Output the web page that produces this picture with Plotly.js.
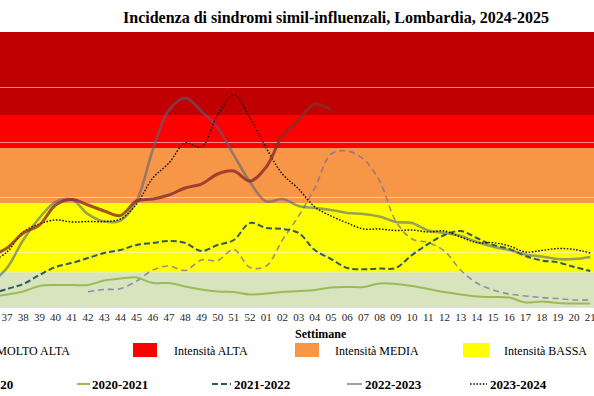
<!DOCTYPE html>
<html><head><meta charset="utf-8">
<script src="https://cdn.plot.ly/plotly-3.0.1.min.js"></script>
<style>html,body{margin:0;padding:0;background:#fff;overflow:hidden}#chart{width:594px;height:396px}</style>
</head><body><div id="chart"></div><script>
// Settimane (weeks)
const weeks = ['36','37','38','39','40','41','42','43','44','45','46','47','48','49','50','51','52',
  '01','02','03','04','05','06','07','08','09','10','11','12','13','14','15','16','17','18','19','20','21'];

// Incidence per 1000 assisted, by season
const s2019_2020 = [null,null,null,null,null,null,1.39,1.59,1.66,2.36,3.36,3.73,3.32,4.27,4.23,5.23,3.59,
  3.73,6.09,8.27,10.82,13.91,14.18,13.45,11.45,7.8,6.18,5.86,5.09,3.36,2.18,1.55,1.18,1.0,0.86,0.77,0.64,0.64];
const s2020_2021 = [0.91,1.14,1.41,1.91,2.0,2.0,2.0,2.41,2.59,2.68,2.18,2.18,1.86,1.59,1.41,1.36,1.14,
  1.23,1.36,1.45,1.55,1.77,1.82,1.82,2.14,2.09,1.91,1.64,1.36,1.14,0.95,0.91,0.86,0.41,0.5,0.36,0.32,0.32];
const s2021_2022 = [1.18,1.64,2.09,2.91,3.64,4.0,4.45,4.91,5.18,5.64,5.82,6.0,5.82,5.09,5.64,6.09,7.64,
  7.18,7.09,6.73,5.18,4.36,3.55,3.43,3.5,3.55,4.73,5.73,6.55,6.91,6.27,5.64,5.27,4.64,4.23,4.05,3.64,3.27];
const s2022_2023 = [2.18,3.55,6.09,8.09,9.55,9.77,8.45,7.77,7.86,9.64,14.3,17.9,19.0,17.8,16.3,13.8,11.36,
  9.59,9.82,9.18,9.0,8.82,8.55,8.45,8.23,7.73,7.64,6.95,6.73,6.45,5.91,5.48,5.18,4.77,4.59,4.36,4.36,4.55];
const s2023_2024 = [4.09,5.0,6.82,7.55,7.91,7.73,7.77,7.77,8.0,9.36,11.73,13.09,14.91,14.55,17.45,19.27,17.18,
  14.45,12.09,10.73,9.09,8.27,7.64,7.09,7.09,6.95,7.0,6.82,6.91,6.36,5.85,5.85,5.55,5.0,5.14,5.32,5.23,4.91];
const s2024_2025 = [4.64,5.36,6.73,7.45,9.27,9.77,9.27,8.73,8.32,9.64,9.82,10.18,10.82,11.18,12.09,12.36,11.45,
  12.73,15.55,17.0,18.45,17.91,null,null,null,null,null,null,null,null,null,null,null,null,null,null,null,null];

// Intensity thresholds and band labels
const bandEdges = [0, 3.16, 9.45, 14.45, 17.45, 25];
const bandColors = ['#d7e4bd', '#ffff00', '#f79646', '#ff0000', '#c00000'];
const bandLabels = ['Intensità BASSA', 'Intensità MEDIA', 'Intensità ALTA', 'Intensità MOLTO ALTA'];
const seasonNames = ['2019-2020','2020-2021','2021-2022','2022-2023','2023-2024','2024-2025'];

const W = 594, PB = 307, PH = 275;
const px = x => x / W;
const py = y => (PB - y) / PH;

const seasonStyles = [
  {color:'rgba(120,110,160,0.75)', width:1.6, dash:'6px,4px'},
  {color:'#9bbb59', width:2, dash:'solid'},
  {color:'#2c5a5e', width:2, dash:'6px,3px'},
  {color:'rgba(85,100,130,0.6)', width:2.6, dash:'solid'},
  {color:'#111111', width:1.4, dash:'1.6px,1.6px'},
  {color:'rgba(140,45,40,0.82)', width:3, dash:'solid'}
];
const seasonData = [s2019_2020, s2020_2021, s2021_2022, s2022_2023, s2023_2024, s2024_2025];

const traces = seasonData.map((d, i) => ({
  type:'scatter', mode:'lines', x: weeks, y: d, name: seasonNames[i],
  line:{color: seasonStyles[i].color, width: seasonStyles[i].width, dash: seasonStyles[i].dash, shape:'spline', smoothing:1},
  hoverinfo:'skip', showlegend:false
}));

const shapes = [];
for (let i = 0; i < bandColors.length; i++) {
  shapes.push({type:'rect', xref:'paper', yref:'y', x0:0, x1:1, y0:bandEdges[i], y1:bandEdges[i+1],
    fillcolor:bandColors[i], line:{width:0}, layer:'below'});
}

const serif = 'Liberation Serif, Times New Roman, serif';
const annotations = [];
function txt(text, x, y, anchor, size, bold) {
  annotations.push({text: bold ? '<b>'+text+'</b>' : text, xref:'paper', yref:'paper', x:px(x), y:py(y),
    xanchor:anchor, yanchor:'middle', showarrow:false, font:{family:serif, size:size, color:'#000'}});
}
// axis title
txt('Settimane', 321, 334, 'center', 12, true);

// band legend (row 1)
const bandSw = [
  {x0:-40, x1:-16, c:bandColors[4], label:bandLabels[3], tx:72, anchor:'right'},
  {x0:133, x1:157, c:bandColors[3], label:bandLabels[2], tx:172, anchor:'left'},
  {x0:295, x1:319, c:bandColors[2], label:bandLabels[1], tx:333, anchor:'left'},
  {x0:463, x1:489, c:bandColors[1], label:bandLabels[0], tx:502, anchor:'left'}
];
bandSw.forEach(b => {
  shapes.push({type:'rect', xref:'paper', yref:'paper', x0:px(b.x0), x1:px(b.x1), y0:py(357), y1:py(343),
    fillcolor:b.c, line:{width:0}});
  txt(b.label, b.tx, 351, b.anchor, 12, false);
});

// season legend (row 2)
const seasLeg = [
  {l0:-40, l1:-25, tx:15, anchor:'right'},
  {l0:77, l1:90, tx:90, anchor:'left'},
  {l0:212, l1:231, tx:232, anchor:'left'},
  {l0:347, l1:362, tx:363, anchor:'left'},
  {l0:470, l1:487, tx:488, anchor:'left'}
];
seasLeg.forEach((s, i) => {
  shapes.push({type:'line', xref:'paper', yref:'paper', x0:px(s.l0), x1:px(s.l1), y0:py(384), y1:py(384),
    line:{color:seasonStyles[i].color, width:Math.min(seasonStyles[i].width,2), dash:seasonStyles[i].dash}});
  txt(seasonNames[i], s.tx, 384, s.anchor, 13, true);
});

const layout = {
  width: 594, height: 396,
  margin:{l:0, r:0, t:32, b:89, pad:0},
  paper_bgcolor:'#ffffff', plot_bgcolor:'#ffffff',
  title:{text:'<b>Incidenza di sindromi simil-influenzali, Lombardia, 2024-2025</b>',
    font:{family:serif, size:16, color:'#000'}, xref:'container', yref:'container',
    x:336/594, xanchor:'center', y:1-17/396, yanchor:'middle'},
  xaxis:{type:'category', range:[0.568, 37.23], showgrid:false, zeroline:false, ticks:'',
    tickfont:{family:serif, size:11, color:'#262626'}, showline:true, linecolor:'#e0e0e0', linewidth:1, fixedrange:true},
  yaxis:{range:[0,25], dtick:5, showticklabels:false, showgrid:true, gridcolor:'rgba(255,255,255,0.55)', gridwidth:1,
    zeroline:false, fixedrange:true},
  shapes: shapes, annotations: annotations, showlegend:false
};
Plotly.newPlot('chart', traces, layout, {staticPlot:true, displayModeBar:false});
</script></body></html>
